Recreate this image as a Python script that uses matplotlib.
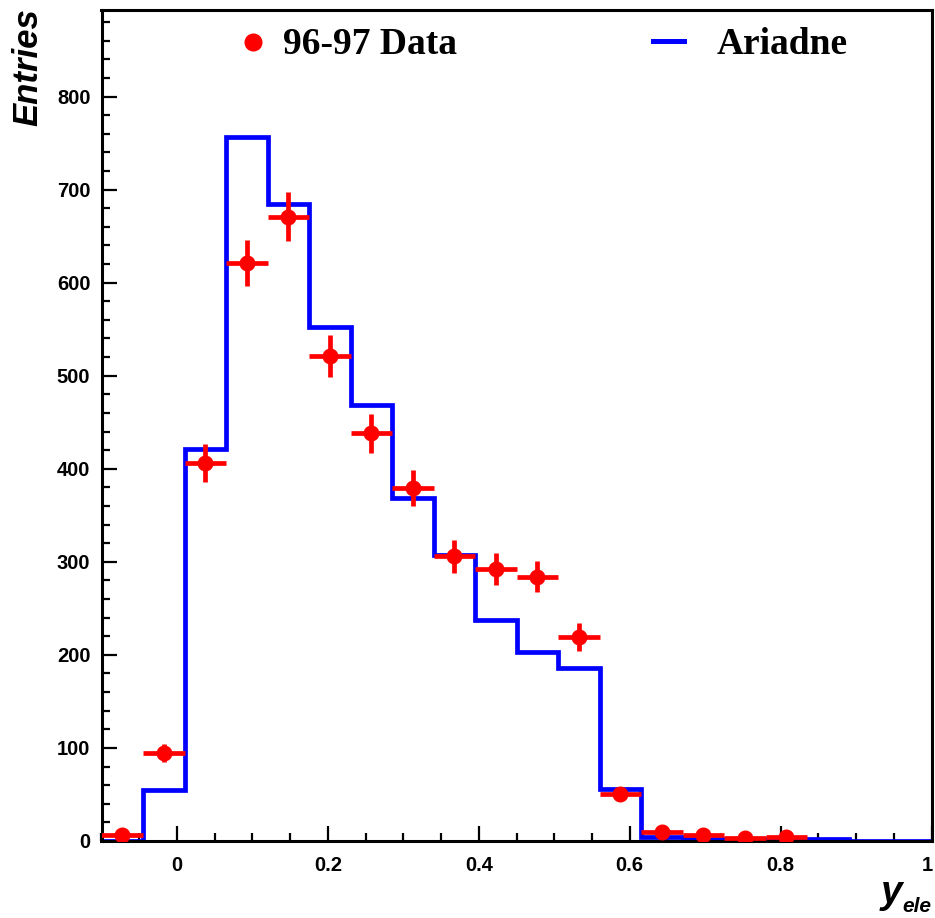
import numpy as np
import matplotlib
matplotlib.use("Agg")
import matplotlib.pyplot as plt
import matplotlib.transforms as mtransforms
from matplotlib.ticker import MultipleLocator

# Binning of y_ele: 20 bins from -0.1 to 1.0
bin_edges = np.linspace(-0.1, 1.0, 21)

# 96-97 data (entries per bin) and their statistical errors
data_counts = [6, 95, 406, 621, 671, 521, 438, 379, 306, 292, 284, 219, 50,
               10, 6, 3, 4, 0, 0, 0]
data_errors = [2.4, 9.7, 20.1, 24.9, 25.9, 22.8, 20.9, 19.5, 17.5, 17.1, 16.9,
               14.8, 7.1, 3.2, 2.4, 1.7, 2.0, 0, 0, 0]

# Ariadne Monte Carlo prediction
ariadne_counts = [0, 55, 421, 757, 684, 552, 468, 369, 307, 238, 203, 186, 56,
                  4, 2, 2, 2, 2, 0, 0]

W, H = 935, 918
fig = plt.figure(figsize=(W / 100, H / 100), dpi=100)
fig.patch.set_facecolor("white")

left_px, right_px, top_px, bottom_px = 101.5, 931.5, 10, 841
ax = fig.add_axes([left_px / W, 1 - bottom_px / H,
                   (right_px - left_px) / W, (bottom_px - top_px) / H])

# Monte Carlo histogram
ax.stairs(ariadne_counts, bin_edges, color="#0000ff", lw=3.4, zorder=2)

# Data points with errors
centers = 0.5 * (bin_edges[:-1] + bin_edges[1:])
half_width = 0.5 * np.diff(bin_edges)
dc = np.array(data_counts, dtype=float)
de = np.array(data_errors, dtype=float)
show = dc > 0
ax.errorbar(centers[show], dc[show], xerr=half_width[show], yerr=de[show],
            fmt="o", color="#ff0000", ms=10.5, elinewidth=3.4, capsize=0,
            zorder=3, clip_on=True)

ax.set_xlim(-0.1, 1.0)
ax.set_ylim(0, 893)

for s in ax.spines.values():
    s.set_linewidth(2.2)

ax.xaxis.set_major_locator(MultipleLocator(0.2))
ax.xaxis.set_minor_locator(MultipleLocator(0.05))
ax.yaxis.set_major_locator(MultipleLocator(100))
ax.yaxis.set_minor_locator(MultipleLocator(20))
ax.tick_params(which="both", direction="in", top=False, right=False,
               width=1.6)
ax.tick_params(which="major", length=11)
ax.tick_params(which="minor", length=5.5)
ax.tick_params(axis="x", which="major", pad=11)
ax.tick_params(axis="y", which="major", pad=8)

ax.set_xticks([0, 0.2, 0.4, 0.6, 0.8, 1.0])
ax.set_xticklabels(["0", "0.2", "0.4", "0.6", "0.8", "1"])
for lab in ax.get_xticklabels() + ax.get_yticklabels():
    lab.set_fontfamily("Liberation Sans")
    lab.set_fontweight("bold")
    lab.set_fontsize(14.5)

# keep the last x label inside the canvas
last = ax.get_xticklabels()[-1]
last.set_transform(last.get_transform() +
                   mtransforms.ScaledTranslation(-4 / 100, 0,
                                                 fig.dpi_scale_trans))

# Axis titles
fig.text(28 / W, 1 - 8 / H, "Entries", rotation=90, ha="center", va="top",
         fontfamily="Liberation Sans", fontstyle="italic", fontweight="bold",
         fontsize=25)
fig.text(881 / W, 1 - 903 / H, "y", ha="left", va="baseline",
         fontfamily="Liberation Sans", fontstyle="italic", fontweight="bold",
         fontsize=28)
fig.text(902 / W, 1 - 912 / H, "ele", ha="left", va="baseline",
         fontfamily="Liberation Sans", fontstyle="italic", fontweight="bold",
         fontsize=15)

# Legend drawn in figure coordinates
fig.lines.append(plt.Line2D([253 / W], [1 - 42 / H], marker="o", ms=12,
                            color="#ff0000", lw=0, transform=fig.transFigure))
fig.text(283 / W, 1 - 44 / H, "96-97 Data", ha="left", va="center",
         fontfamily="Liberation Serif", fontweight="bold", fontsize=27)
fig.lines.append(plt.Line2D([653 / W, 684 / W], [1 - 41 / H, 1 - 41 / H],
                            color="#0000ff", lw=3.6,
                            transform=fig.transFigure))
fig.text(717 / W, 1 - 44 / H, "Ariadne", ha="left", va="center",
         fontfamily="Liberation Serif", fontweight="bold", fontsize=27)

fig.savefig("out.png", dpi=100, facecolor="white")
